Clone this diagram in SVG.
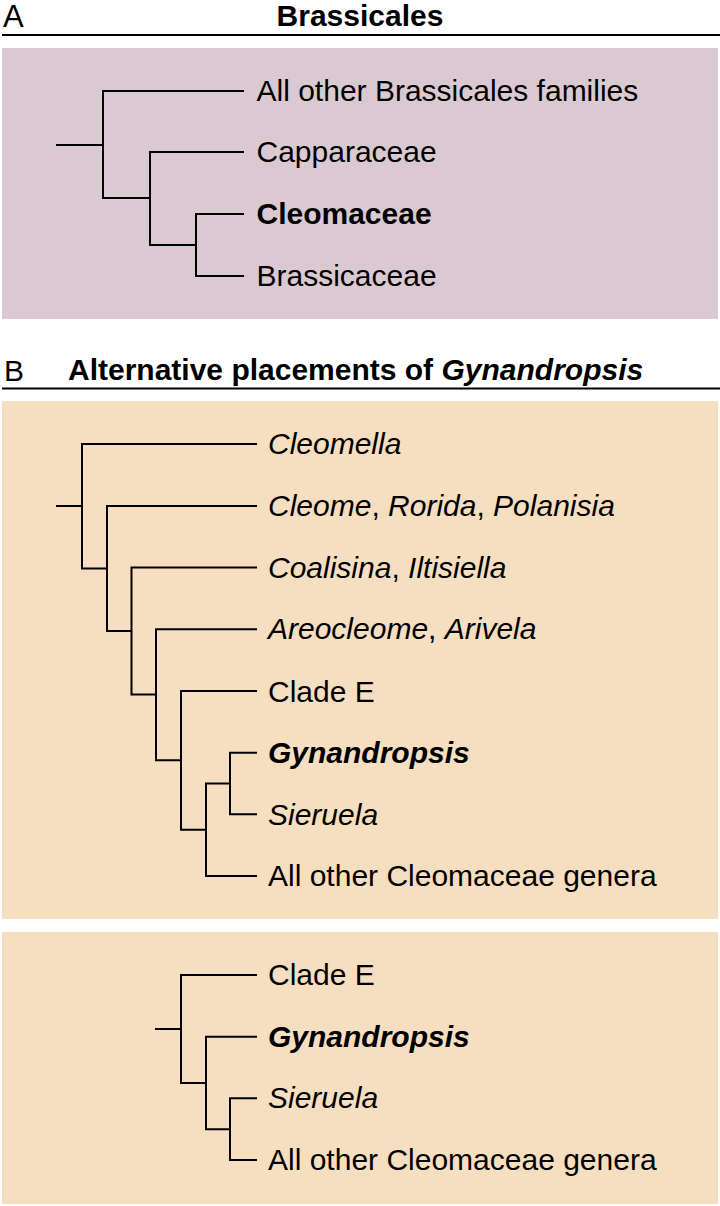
<svg xmlns="http://www.w3.org/2000/svg" width="720" height="1206" viewBox="0 0 720 1206">
<style>
text{font-family:"Liberation Sans",Arial,Helvetica,sans-serif;font-size:30px;fill:#000}
.panel-label{font-size:31px}
.title{font-weight:bold}
.it{font-style:italic}
.bi{font-style:italic;font-weight:bold}
.rule{stroke:#000;stroke-width:2;fill:none}
.tree path{stroke:#000;stroke-width:2;fill:none;stroke-linecap:square}
</style>
<rect width="720" height="1206" fill="#ffffff"/>

<g id="panelA">
  <text class="panel-label" x="3" y="27">A</text>
  <text class="title" x="360" y="26" text-anchor="middle">Brassicales</text>
  <line class="rule" x1="2" y1="35" x2="720" y2="35"/>
  <rect x="2" y="48" width="716" height="271" fill="#dbc9d1"/>
</g>

<g id="panelB">
  <text class="panel-label" x="4" y="381" style="font-size:30px">B</text>
  <text class="title" x="68" y="379.5">Alternative placements of <tspan class="bi">Gynandropsis</tspan></text>
  <line class="rule" x1="2" y1="388.5" x2="720" y2="388.5"/>
  <rect x="2" y="401" width="716" height="518" fill="#f6dfc0"/>
  <rect x="2" y="932" width="716" height="272" fill="#f6dfc0"/>
</g>

<g id="connectors" class="tree">
  <!-- Panel A -->
  <path d="M57,145 H103 M103,91 V198 M103,91 H243 M103,198 H150 M150,152 V245 M150,152 H243 M150,245 H196 M196,214 V276 M196,214 H243 M196,276 H243"/>
  <!-- Panel B1 -->
  <path d="M57,506 H82 M82,444 V568.5 M82,444 H256 M82,568.5 H107 M107,506 V631 M107,506 H256 M107,631 H131.5 M131.5,567.5 V694.5 M131.5,567.5 H256 M131.5,694.5 H156 M156,629.3 V760.3 M156,629.3 H256 M156,760.3 H181 M181,691 V829.8 M181,691 H256 M181,829.8 H206 M206,783.5 V876 M206,876 H256 M206,783.5 H230 M230,752.7 V814.3 M230,752.7 H256 M230,814.3 H256"/>
  <!-- Panel B2 -->
  <path d="M156,1029 H181 M181,975 V1083 M181,975 H256 M181,1083 H206 M206,1036.7 V1129.2 M206,1036.7 H256 M206,1129.2 H230 M230,1098.3 V1160 M230,1098.3 H256 M230,1160 H256"/>
</g>

<g id="a-others"><text x="256.5" y="101">All other Brassicales families</text></g>
<g id="a-capparaceae"><text x="256.5" y="162">Capparaceae</text></g>
<g id="a-cleomaceae"><text x="256.5" y="224" class="title">Cleomaceae</text></g>
<g id="a-brassicaceae"><text x="256.5" y="286">Brassicaceae</text></g>

<g id="b1-cleomella"><text x="268" y="454" class="it">Cleomella</text></g>
<g id="b1-cleome"><text x="268" y="516"><tspan class="it">Cleome</tspan>, <tspan class="it">Rorida</tspan>, <tspan class="it">Polanisia</tspan></text></g>
<g id="b1-coalisina"><text x="268" y="577.5"><tspan class="it">Coalisina</tspan>, <tspan class="it">Iltisiella</tspan></text></g>
<g id="b1-areocleome"><text x="268" y="639.3"><tspan class="it">Areocleome</tspan>, <tspan class="it">Arivela</tspan></text></g>
<g id="b1-cladeE"><text x="268" y="701.5">Clade E</text></g>
<g id="b1-gynandropsis"><text x="268" y="763" class="bi">Gynandropsis</text></g>
<g id="b1-sieruela"><text x="268" y="824.5" class="it">Sieruela</text></g>
<g id="b1-allother"><text x="268" y="886">All other Cleomaceae genera</text></g>

<g id="b2-cladeE"><text x="268" y="985">Clade E</text></g>
<g id="b2-gynandropsis"><text x="268" y="1046.7" class="bi">Gynandropsis</text></g>
<g id="b2-sieruela"><text x="268" y="1108.3" class="it">Sieruela</text></g>
<g id="b2-allother"><text x="268" y="1170">All other Cleomaceae genera</text></g>
</svg>
